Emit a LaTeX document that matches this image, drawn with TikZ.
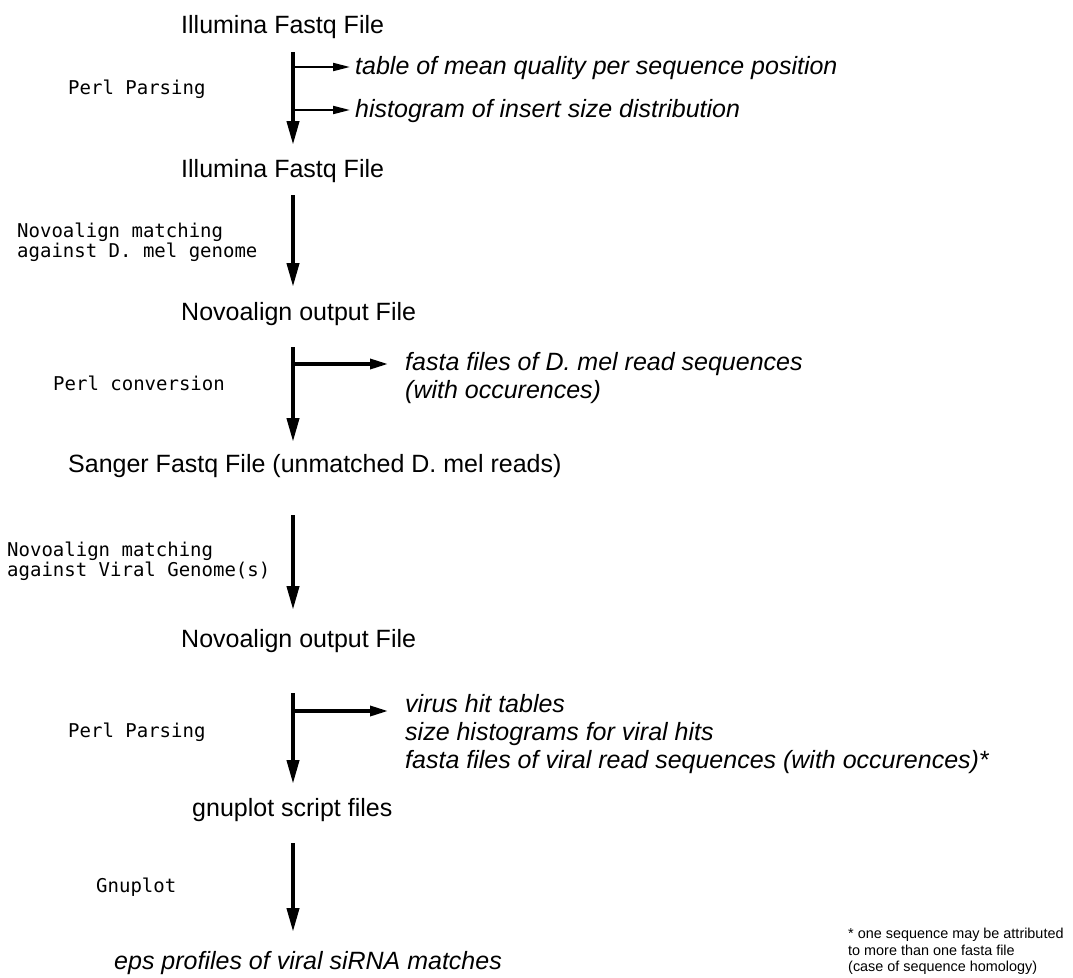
\documentclass[tikz,border=0pt]{standalone}
\usepackage{fontspec}
\setmainfont{Liberation Sans}
\newfontfamily\codefont{DejaVu Sans Mono}
\usetikzlibrary{arrows.meta,calc}

\tikzset{
  filenode/.style={anchor=base west,inner sep=0pt,font=\fontsize{25}{30}\selectfont},
  outnode/.style={inner sep=0pt,align=left,font=\fontsize{25}{28}\selectfont\itshape},
  toollabel/.style={inner sep=0pt,align=left,font=\codefont\fontsize{19}{20}\selectfont},
  flow/.style={line width=4pt,-{Triangle[length=24pt,width=12pt]}},
  thinbranch/.style={line width=2pt,-{Triangle[length=17pt,width=8pt]}},
  thickbranch/.style={line width=3.3pt,-{Triangle[length=18pt,width=10pt]}}
}

\begin{document}
\begin{tikzpicture}[x=1pt,y=-1pt]
    \useasboundingbox (0,0) rectangle (1073,977);
    \coordinate (spine) at (293,0);

    % Files
    \node[filenode] (ill1) at (181,33) {Illumina Fastq File};
    \node[filenode] (ill2) at (181,177) {Illumina Fastq File};
    \node[filenode] (novo1) at (181,320) {Novoalign output File};
    \node[filenode] (sanger) at (68,472) {Sanger Fastq File (unmatched D. mel reads)};
    \node[filenode] (novo2) at (181,647) {Novoalign output File};
    \node[filenode] (gplot) at (192,816) {gnuplot script files};
    \node[filenode,font=\fontsize{25}{30}\selectfont\itshape] (eps) at (114,969) {eps profiles of viral siRNA matches};

    % Tools
    \node[toollabel,anchor=base west] (parse1) at (68,94) {Perl Parsing};
    \node[toollabel,anchor=north west] (alignmel) at (17,223) {Novoalign matching\\against D. mel genome};
    \node[toollabel,anchor=base west] (convert) at (53,390) {Perl conversion};
    \node[toollabel,anchor=north west] (alignvir) at (7,542) {Novoalign matching\\against Viral Genome(s)};
    \node[toollabel,anchor=base west] (parse2) at (68,737) {Perl Parsing};
    \node[toollabel,anchor=base west] (gnu) at (96,892) {Gnuplot};

    % Side outputs
    \node[outnode,anchor=base west] (qualtab) at (355,74) {table of mean quality per sequence position};
    \node[outnode,anchor=base west] (inshist) at (355,117) {histogram of insert size distribution};
    \node[outnode,anchor=north west] (melfasta) at (405,352) {fasta files of D. mel read sequences\\(with occurences)};
    \node[outnode,anchor=north west] (virout) at (405,694) {virus hit tables\\size histograms for viral hits\\fasta files of viral read sequences (with occurences)*};

    % Footnote
    \node[inner sep=0pt,align=left,anchor=north west,font=\fontsize{14.4}{16.5}\selectfont] (fnote) at (848,928)
        {* one sequence may be attributed\\to more than one fasta file\\(case of sequence homology)};

    % Main flow
    \draw[flow,shorten <=19pt,shorten >=32pt] (ill1.base -| spine) -- (ill2.base -| spine);
    \draw[flow,shorten <=18pt,shorten >=33pt] (ill2.base -| spine) -- (novo1.base -| spine);
    \draw[flow,shorten <=27pt,shorten >=30pt] (novo1.base -| spine) -- (sanger.base -| spine);
    \draw[flow,shorten <=43pt,shorten >=37pt] (sanger.base -| spine) -- (novo2.base -| spine);
    \draw[flow,shorten <=46pt,shorten >=32pt] (novo2.base -| spine) -- (gplot.base -| spine);
    \draw[flow,shorten <=27pt,shorten >=37pt] (gplot.base -| spine) -- (eps.base -| spine);

    % Branches
    \draw[thinbranch] ($(qualtab.base west -| spine)+(0,-7)$) -- ($(qualtab.base west)+(-5,-7)$);
    \draw[thinbranch] ($(inshist.base west -| spine)+(0,-7)$) -- ($(inshist.base west)+(-5,-7)$);
    \draw[thickbranch] ($(melfasta.north west -| spine)+(0,12)$) -- ($(melfasta.north west)+(-17,12)$);
    \draw[thickbranch] ($(virout.north west -| spine)+(0,17)$) -- ($(virout.north west)+(-17,17)$);
\end{tikzpicture}
\end{document}
